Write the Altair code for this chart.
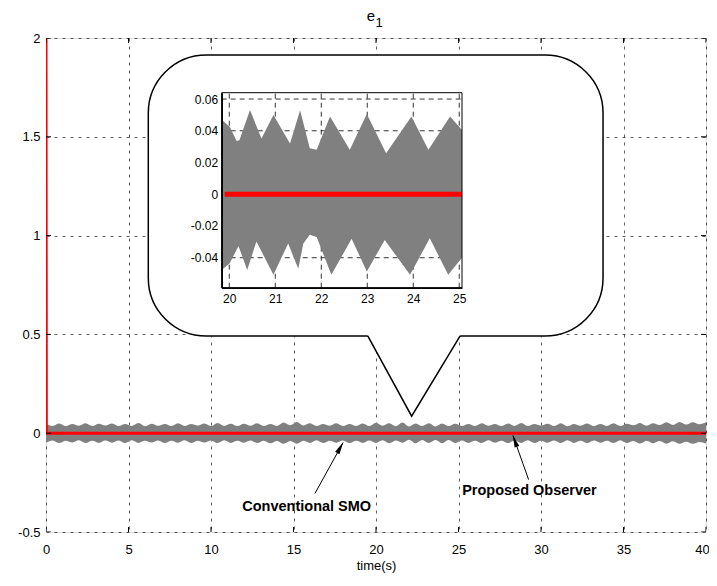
import math
import altair as alt
import pandas as pd

# ---------------- layout ----------------
W, H = 660, 494
X_DOM = [0, 40]
Y_DOM = [-0.5, 2]
PX_X = W / (X_DOM[1] - X_DOM[0])
PX_Y = H / (Y_DOM[1] - Y_DOM[0])

# ---------------- main data ----------------
main_xticks = [0, 5, 10, 15, 20, 25, 30, 35, 40]
main_yticks = [-0.5, 0, 0.5, 1, 1.5, 2]

# Proposed observer (red): starts at 2 and drops to 0
red_t = [0, 0.02, 40]
red_e = [2.0, 0.0, 0.0]

# Conventional SMO (grey band) envelope, sampled every 0.4 s
band_t = [round(0.4 * i, 1) for i in range(101)]
band_upper = [
    0.047, 0.037, 0.049, 0.036, 0.047, 0.038, 0.050, 0.036, 0.048, 0.039,
    0.049, 0.036, 0.047, 0.037, 0.051, 0.035, 0.048, 0.038, 0.047, 0.036,
    0.050, 0.037, 0.047, 0.039, 0.049, 0.036, 0.052, 0.037, 0.048, 0.036,
    0.048, 0.038, 0.050, 0.036, 0.047, 0.037, 0.054, 0.040, 0.057, 0.039,
    0.050, 0.036, 0.047, 0.038, 0.050, 0.036, 0.047, 0.037, 0.049, 0.036,
    0.053, 0.038, 0.050, 0.035, 0.054, 0.034, 0.049, 0.036, 0.050, 0.034,
    0.049, 0.036, 0.048, 0.037, 0.047, 0.036, 0.050, 0.038, 0.047, 0.036,
    0.049, 0.037, 0.051, 0.036, 0.047, 0.039, 0.048, 0.036, 0.050, 0.035,
    0.047, 0.038, 0.049, 0.036, 0.047, 0.037, 0.050, 0.036, 0.048, 0.040,
    0.052, 0.038, 0.050, 0.041, 0.055, 0.042, 0.057, 0.044, 0.056, 0.045,
    0.055,
]
band_lower = [
    -0.048, -0.037, -0.050, -0.038, -0.047, -0.036, -0.050, -0.038, -0.049, -0.037,
    -0.048, -0.037, -0.050, -0.036, -0.049, -0.038, -0.047, -0.037, -0.050, -0.038,
    -0.048, -0.036, -0.050, -0.038, -0.047, -0.037, -0.050, -0.036, -0.049, -0.038,
    -0.048, -0.037, -0.050, -0.038, -0.051, -0.039, -0.054, -0.040, -0.053, -0.038,
    -0.049, -0.036, -0.050, -0.038, -0.048, -0.037, -0.050, -0.038, -0.049, -0.037,
    -0.049, -0.036, -0.051, -0.037, -0.048, -0.033, -0.051, -0.035, -0.050, -0.035,
    -0.051, -0.035, -0.050, -0.037, -0.049, -0.038, -0.050, -0.036, -0.048, -0.038,
    -0.050, -0.037, -0.049, -0.036, -0.050, -0.038, -0.048, -0.037, -0.050, -0.036,
    -0.049, -0.038, -0.050, -0.037, -0.048, -0.038, -0.050, -0.036, -0.050, -0.039,
    -0.052, -0.038, -0.051, -0.040, -0.053, -0.041, -0.054, -0.043, -0.053, -0.044,
    -0.052,
]

# annotations (data coords)
ann_text = ["Conventional SMO", "Proposed Observer"]
ann_tx = [15.8, 29.3]
ann_ty = [-0.372, -0.292]
arrow_x0 = [16.3, 29.25]
arrow_y0 = [-0.305, -0.235]
arrow_x1 = [18.0, 28.3]
arrow_y1 = [-0.048, -0.012]

# title "e" with subscript "1" (pixel positions relative to plot area)
title_parts = ["e", "1"]
title_px = [325, 333]
title_py = [-17, -11]
title_size = [15, 13]

# callout bubble (data coords of the main axes)
bubble_x = [6.2, 33.76]
bubble_y = [0.4924, 1.914]
tail_t = [19.5, 22.16, 25.1]
tail_v = [0.4924, 0.086, 0.4924]

# ---------------- inset data ----------------
INSET_X = [19.835, 25.06]
INSET_Y = [-0.0589, 0.064]
INSET_PX = [175.7, 416.0]      # pixel range inside plot area
INSET_PY = [249.7, 54.7]
inset_xticks = [20, 21, 22, 23, 24, 25]
inset_yticks = [-0.04, -0.02, 0, 0.02, 0.04, 0.06]

inset_up_t = [19.835, 20.01, 20.16, 20.22, 20.45, 20.70, 20.96, 21.32, 21.54, 21.75,
              21.90, 22.19, 22.62, 22.99, 23.41, 23.96, 24.33, 24.80, 25.06]
inset_up_v = [0.047, 0.0426, 0.0336, 0.034, 0.0531, 0.0352, 0.050, 0.032, 0.053, 0.029,
              0.028, 0.049, 0.028, 0.0506, 0.0258, 0.049, 0.028, 0.049, 0.0405]
inset_lo_t = [19.835, 20.01, 20.2, 20.39, 20.59, 20.96, 21.28, 21.5, 21.61, 21.75,
              21.9, 22.22, 22.66, 22.99, 23.38, 23.93, 24.36, 24.76, 25.06]
inset_lo_v = [-0.0477, -0.0435, -0.0326, -0.0477, -0.0298, -0.0508, -0.031, -0.047, -0.031, -0.0256,
              -0.027, -0.0508, -0.028, -0.0487, -0.0288, -0.0508, -0.0277, -0.0508, -0.040]
inset_red_t = [19.9, 25.06]
inset_red_v = [0.0, 0.0]

FONT = "Liberation Sans"
GRAY = "#808080"
RED = "#ff0000"

# ---------------- main encodings ----------------
xs = alt.Scale(domain=X_DOM, nice=False, zero=False)
ys = alt.Scale(domain=Y_DOM, nice=False, zero=False)
xax = alt.Axis(values=main_xticks, grid=True, gridDash=[3, 5], gridColor="black",
               gridWidth=0.7, gridOpacity=0.9, domain=False, ticks=False,
               labelPadding=11, labelFontSize=13, labelColor="black", labelFont=FONT,
               labelFlush=False, labelOverlap=False, labelExpr="'' + datum.value",
               labelOffset={"condition": {"test": "datum.value == 40", "value": -4}, "value": 0},
               title="time(s)", titleFontSize=13, titleFontWeight="normal",
               titleFont=FONT, titleColor="black", titlePadding=3)
yax = alt.Axis(values=main_yticks, grid=True, gridDash=[3, 5], gridColor="black",
               gridWidth=0.7, gridOpacity=0.9, domain=False, ticks=False,
               labelPadding=6, labelFontSize=13, labelColor="black", labelFont=FONT,
               labelFlush=False, labelOverlap=False, labelExpr="'' + datum.value",
               title=None)


def MX(f):
    return alt.X(f, type="quantitative", scale=xs, axis=xax)


def MY(f):
    return alt.Y(f, type="quantitative", scale=ys, axis=yax)


band_df = pd.DataFrame({"t": band_t, "up": band_upper, "lo": band_lower, "z": 0.0})
red_df = pd.DataFrame({"t": red_t, "v": red_e, "i": range(len(red_t))})

band_up = alt.Chart(band_df).mark_area(color=GRAY, opacity=1, clip=True,
                                       interpolate="monotone").encode(
    x=MX("t"), y=MY("up"), y2="z")
band_lo = alt.Chart(band_df).mark_area(color=GRAY, opacity=1, clip=True,
                                       interpolate="monotone").encode(
    x=MX("t"), y=MY("lo"), y2="z")
red_line = alt.Chart(red_df).mark_line(color=RED, strokeWidth=3, clip=True).encode(
    x=MX("t"), y=MY("v"), order="i:Q")

# inward MATLAB-style ticks
xt_df = pd.DataFrame({"t": main_xticks * 2,
                      "v": [Y_DOM[0]] * len(main_xticks) + [Y_DOM[1]] * len(main_xticks)})
yt_df = pd.DataFrame({"t": [X_DOM[0]] * len(main_yticks) + [X_DOM[1]] * len(main_yticks),
                      "v": main_yticks * 2})
xticks_m = alt.Chart(xt_df).mark_tick(orient="vertical", size=10, thickness=1,
                                       color="black", clip=True, opacity=1).encode(x=MX("t"), y=MY("v"))
yticks_m = alt.Chart(yt_df).mark_tick(orient="horizontal", size=10, thickness=1,
                                       color="black", clip=True, opacity=1).encode(x=MX("t"), y=MY("v"))

# annotations
ann_df = pd.DataFrame({"t": ann_tx, "v": ann_ty, "label": ann_text})
ann = alt.Chart(ann_df).mark_text(font=FONT, fontSize=14.5, fontWeight="bold",
                                  color="black", align="center", baseline="middle").encode(
    x=MX("t"), y=MY("v"), text="label:N")

arr_df = pd.DataFrame({"t": arrow_x0, "v": arrow_y0, "t2": arrow_x1, "v2": arrow_y1})
arr_lines = alt.Chart(arr_df).mark_rule(color="black", strokeWidth=1).encode(
    x=MX("t"), y=MY("v"), x2="t2", y2="v2")

heads = []
for x0, y0, x1, y1 in zip(arrow_x0, arrow_y0, arrow_x1, arrow_y1):
    dxp = (x1 - x0) * PX_X
    dyp = (y1 - y0) * PX_Y
    ang = math.degrees(math.atan2(dxp, dyp)) % 360
    L = math.hypot(dxp, dyp)
    back = 6.0
    cx = x1 - (dxp / L) * back / PX_X
    cy = y1 - (dyp / L) * back / PX_Y
    heads.append({"t": cx, "v": cy, "ang": ang})
head_df = pd.DataFrame(heads)
arr_heads = alt.Chart(head_df).mark_point(
    shape="M0,-1L0.38,0.9L-0.38,0.9Z", filled=True, color="black", opacity=1, size=170).encode(
    x=MX("t"), y=MY("v"), angle=alt.Angle("ang:Q", scale=None))

# title made of two texts (e with lowered 1)
ttl_df = pd.DataFrame({"s": title_parts})
ttl_e = alt.Chart(ttl_df.iloc[[0]]).mark_text(
    font=FONT, fontSize=title_size[0], color="black", align="center", baseline="alphabetic").encode(
    x=alt.value(title_px[0]), y=alt.value(title_py[0]), text="s:N")
ttl_1 = alt.Chart(ttl_df.iloc[[1]]).mark_text(
    font=FONT, fontSize=title_size[1], color="black", align="center", baseline="alphabetic").encode(
    x=alt.value(title_px[1]), y=alt.value(title_py[1]), text="s:N")

# bubble
bub_df = pd.DataFrame({"t": [bubble_x[0]], "t2": [bubble_x[1]],
                       "v": [bubble_y[0]], "v2": [bubble_y[1]]})
bubble = alt.Chart(bub_df).mark_rect(fill="white", stroke="black", strokeWidth=1.5,
                                     cornerRadius=58).encode(
    x=MX("t"), x2="t2", y=MY("v"), y2="v2")
tail_df = pd.DataFrame({"t": tail_t, "v": tail_v, "top": bubble_y[0] + 0.012,
                        "i": range(len(tail_t))})
tail_fill = alt.Chart(tail_df).mark_area(color="white", opacity=1).encode(
    x=MX("t"), y=MY("v"), y2="top")
tail_line = alt.Chart(tail_df).mark_line(color="black", strokeWidth=1.5).encode(
    x=MX("t"), y=MY("v"), order="i:Q")

main = alt.layer(band_up, band_lo, red_line, arr_lines, arr_heads, ann,
                 xticks_m, yticks_m, bubble, tail_fill, tail_line, ttl_e, ttl_1)

# ---------------- inset ----------------
ixs = alt.Scale(domain=INSET_X, range=INSET_PX, nice=False, zero=False)
iys = alt.Scale(domain=INSET_Y, range=INSET_PY, nice=False, zero=False)
ixax = alt.Axis(values=inset_xticks, orient="bottom", offset=-(H - INSET_PY[0]),
                grid=False, domain=True, domainColor="black", domainWidth=1.6,
                ticks=False, labelFontSize=12, labelPadding=6, labelColor="black",
                labelFont=FONT, labelFlush=False, labelOverlap=False,
                labelExpr="'' + datum.value", title=None, zindex=2)
iyax = alt.Axis(values=inset_yticks, orient="left", offset=-INSET_PX[0],
                grid=False, domain=True, domainColor="black", domainWidth=1.6,
                ticks=False, labelFontSize=12, labelPadding=4, labelColor="black",
                labelFont=FONT, labelFlush=False, labelOverlap=False,
                labelExpr="'' + datum.value", title=None, zindex=2)


def IX(f):
    return alt.X(f, type="quantitative", scale=ixs, axis=ixax)


def IY(f):
    return alt.Y(f, type="quantitative", scale=iys, axis=iyax)


igx_df = pd.DataFrame({"t": inset_xticks, "v": INSET_Y[0], "v2": INSET_Y[1]})
igy_df = pd.DataFrame({"v": inset_yticks, "t": INSET_X[0], "t2": INSET_X[1]})
igrid_x = alt.Chart(igx_df).mark_rule(color="black", strokeDash=[5, 4], strokeWidth=0.8).encode(
    x=IX("t"), y=IY("v"), y2="v2")
igrid_y = alt.Chart(igy_df).mark_rule(color="black", strokeDash=[5, 4], strokeWidth=0.8).encode(
    y=IY("v"), x=IX("t"), x2="t2")

iup_df = pd.DataFrame({"t": inset_up_t, "v": inset_up_v, "z": 0.0})
ilo_df = pd.DataFrame({"t": inset_lo_t, "v": inset_lo_v, "z": 0.0})
i_up = alt.Chart(iup_df).mark_area(color=GRAY, opacity=1).encode(x=IX("t"), y=IY("v"), y2="z")
i_lo = alt.Chart(ilo_df).mark_area(color=GRAY, opacity=1).encode(x=IX("t"), y=IY("v"), y2="z")
ired_df = pd.DataFrame({"t": inset_red_t, "v": inset_red_v})
i_red = alt.Chart(ired_df).mark_line(color=RED, strokeWidth=5).encode(x=IX("t"), y=IY("v"))

iframe_df = pd.DataFrame({"t": [INSET_X[0]], "t2": [INSET_X[1]],
                          "v": [INSET_Y[0]], "v2": [INSET_Y[1]]})
i_frame = alt.Chart(iframe_df).mark_rect(fillOpacity=0, stroke="black", strokeWidth=1).encode(
    x=IX("t"), x2="t2", y=IY("v"), y2="v2")

inset = alt.layer(igrid_x, igrid_y, i_up, i_lo, i_red, i_frame)

chart = alt.layer(main, inset).resolve_scale(
    x="independent", y="independent"
).properties(
    width=W, height=H,
    padding={"left": 38, "top": 30, "right": 3, "bottom": 46},
    autosize=alt.AutoSizeParams(type="none"),
).configure_view(
    stroke="black", strokeWidth=1
).configure(background="white")

chart.save("out.html", embed_options={"renderer": "svg", "actions": False})
